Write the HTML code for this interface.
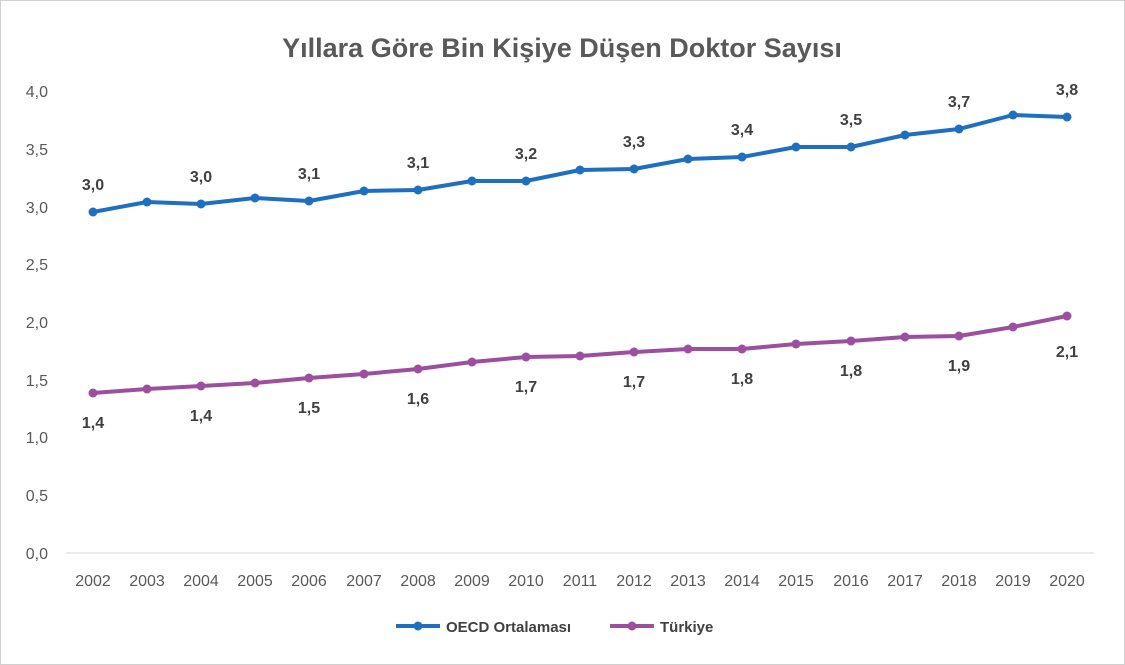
<!DOCTYPE html>
<html><head><meta charset="utf-8"><style>
html,body{margin:0;padding:0;background:#fff;}
svg{display:block;font-family:"Liberation Sans","DejaVu Sans",sans-serif;}
</style></head><body>
<svg width="1125" height="665" viewBox="0 0 1125 665">
<rect x="0.5" y="0.5" width="1124" height="664" fill="#fff" stroke="#d0d0d0"/>
<text x="562" y="57" text-anchor="middle" font-size="27" font-weight="bold" fill="#595959">Yıllara Göre Bin Kişiye Düşen Doktor Sayısı</text>
<g font-size="16" fill="#595959" text-anchor="end">
<text x="48" y="559">0,0</text><text x="48" y="501">0,5</text><text x="48" y="443">1,0</text><text x="48" y="386">1,5</text><text x="48" y="328">2,0</text><text x="48" y="270">2,5</text><text x="48" y="213">3,0</text><text x="48" y="155">3,5</text><text x="48" y="97">4,0</text>
</g>
<line x1="66" y1="553" x2="1094" y2="553" stroke="#d9d9d9" stroke-width="1"/>
<g font-size="16" fill="#595959" text-anchor="middle">
<text x="93" y="586">2002</text><text x="147" y="586">2003</text><text x="201" y="586">2004</text><text x="255" y="586">2005</text><text x="309" y="586">2006</text><text x="364" y="586">2007</text><text x="418" y="586">2008</text><text x="472" y="586">2009</text><text x="526" y="586">2010</text><text x="580" y="586">2011</text><text x="634" y="586">2012</text><text x="688" y="586">2013</text><text x="742" y="586">2014</text><text x="796" y="586">2015</text><text x="851" y="586">2016</text><text x="905" y="586">2017</text><text x="959" y="586">2018</text><text x="1013" y="586">2019</text><text x="1067" y="586">2020</text>
</g>
<g fill="none" stroke-width="4" stroke-linejoin="round">
<polyline stroke="#1f6fc0" points="93,212 147,202 201,204 255,198 309,201 364,191 418,190 472,181 526,181 580,170 634,169 688,159 742,157 796,147 851,147 905,135 959,129 1013,115 1067,117"/>
<polyline stroke="#9c4f9f" points="93,393 147,389 201,386 255,383 309,378 364,374 418,369 472,362 526,357 580,356 634,352 688,349 742,349 796,344 851,341 905,337 959,336 1013,327 1067,316"/>
</g>
<g fill="#1f6fc0">
<circle cx="93" cy="212" r="4.5"/><circle cx="147" cy="202" r="4.5"/><circle cx="201" cy="204" r="4.5"/><circle cx="255" cy="198" r="4.5"/><circle cx="309" cy="201" r="4.5"/><circle cx="364" cy="191" r="4.5"/><circle cx="418" cy="190" r="4.5"/><circle cx="472" cy="181" r="4.5"/><circle cx="526" cy="181" r="4.5"/><circle cx="580" cy="170" r="4.5"/><circle cx="634" cy="169" r="4.5"/><circle cx="688" cy="159" r="4.5"/><circle cx="742" cy="157" r="4.5"/><circle cx="796" cy="147" r="4.5"/><circle cx="851" cy="147" r="4.5"/><circle cx="905" cy="135" r="4.5"/><circle cx="959" cy="129" r="4.5"/><circle cx="1013" cy="115" r="4.5"/><circle cx="1067" cy="117" r="4.5"/>
</g>
<g fill="#9c4f9f">
<circle cx="93" cy="393" r="4.5"/><circle cx="147" cy="389" r="4.5"/><circle cx="201" cy="386" r="4.5"/><circle cx="255" cy="383" r="4.5"/><circle cx="309" cy="378" r="4.5"/><circle cx="364" cy="374" r="4.5"/><circle cx="418" cy="369" r="4.5"/><circle cx="472" cy="362" r="4.5"/><circle cx="526" cy="357" r="4.5"/><circle cx="580" cy="356" r="4.5"/><circle cx="634" cy="352" r="4.5"/><circle cx="688" cy="349" r="4.5"/><circle cx="742" cy="349" r="4.5"/><circle cx="796" cy="344" r="4.5"/><circle cx="851" cy="341" r="4.5"/><circle cx="905" cy="337" r="4.5"/><circle cx="959" cy="336" r="4.5"/><circle cx="1013" cy="327" r="4.5"/><circle cx="1067" cy="316" r="4.5"/>
</g>
<g font-size="16" font-weight="bold" fill="#404040" text-anchor="middle">
<text x="93" y="190">3,0</text><text x="201" y="182">3,0</text><text x="309" y="179">3,1</text><text x="418" y="168">3,1</text><text x="526" y="159">3,2</text><text x="634" y="147">3,3</text><text x="742" y="135">3,4</text><text x="851" y="125">3,5</text><text x="959" y="107">3,7</text><text x="1067" y="95">3,8</text>
<text x="93" y="428">1,4</text><text x="201" y="421">1,4</text><text x="309" y="413">1,5</text><text x="418" y="404">1,6</text><text x="526" y="392">1,7</text><text x="634" y="387">1,7</text><text x="742" y="384">1,8</text><text x="851" y="376">1,8</text><text x="959" y="371">1,9</text><text x="1067" y="357">2,1</text>
</g>
<line x1="396" y1="626" x2="440" y2="626" stroke="#1f6fc0" stroke-width="4"/><circle cx="418" cy="626" r="4.5" fill="#1f6fc0"/>
<text x="446" y="632" font-size="15" font-weight="bold" fill="#404040">OECD Ortalaması</text>
<line x1="610" y1="626" x2="654" y2="626" stroke="#9c4f9f" stroke-width="4"/><circle cx="632" cy="626" r="4.5" fill="#9c4f9f"/>
<text x="660" y="632" font-size="15" font-weight="bold" fill="#404040">Türkiye</text>
</svg>
</body></html>
